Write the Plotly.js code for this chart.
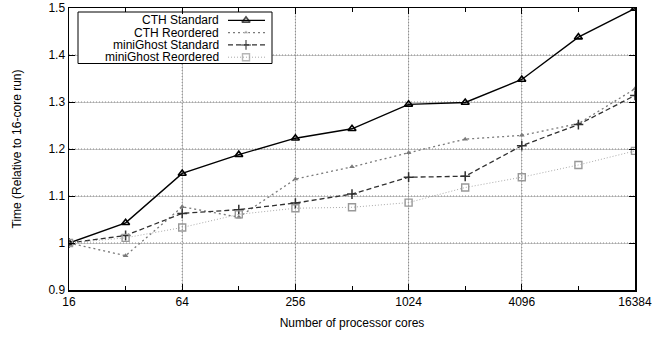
<!DOCTYPE html>
<html>
<head>
<meta charset="utf-8">
<script src="https://cdn.plot.ly/plotly-3.0.1.min.js"></script>
<style>
  html, body { margin: 0; padding: 0; background: #fff; }
  #chart { width: 669px; height: 337px; }
</style>
</head>
<body>
<div id="chart"></div>
<script>
// Processor core counts (powers of two)
const cores = [16, 32, 64, 128, 256, 512, 1024, 2048, 4096, 8192, 16384];

// Run time relative to the 16-core run
const cthStandard        = [1.000, 1.043, 1.148, 1.188, 1.223, 1.243, 1.295, 1.299, 1.348, 1.438, 1.499];
const cthReordered       = [1.000, 0.973, 1.077, 1.055, 1.136, 1.162, 1.192, 1.221, 1.229, 1.254, 1.328];
const miniGhostStandard  = [1.000, 1.016, 1.063, 1.071, 1.085, 1.104, 1.140, 1.142, 1.207, 1.252, 1.314];
const miniGhostReordered = [1.000, 1.011, 1.033, 1.061, 1.074, 1.076, 1.086, 1.118, 1.140, 1.166, 1.196];

const seriesNames = ['CTH Standard', 'CTH Reordered', 'miniGhost Standard', 'miniGhost Reordered'];
const seriesValues = [cthStandard, cthReordered, miniGhostStandard, miniGhostReordered];

const majorTicks = [16, 64, 256, 1024, 4096, 16384];
const minorTicks = [32, 128, 512, 2048, 8192];
const yTicks = [0.9, 1.0, 1.1, 1.2, 1.3, 1.4, 1.5];
const yTickText = ['0.9', '1', '1.1', '1.2', '1.3', '1.4', '1.5'];

const FONT = 'Liberation Sans, Arial, Helvetica, sans-serif';

// Plot area in page pixels
const PLOT = { left: 69, right: 635, top: 8, bottom: 290 };
const X_MIN = 16, X_MAX = 16384, Y_MIN = 0.9, Y_MAX = 1.5;

// Line and marker style of each series
const styles = [
  { line: { color: '#000000', width: 1.4 },
    marker: { symbol: 'triangle-up-open', size: 7, color: '#000000', line: { width: 1.6, color: '#000000' } } },
  { line: { color: '#7a7a7a', width: 1.3, dash: '2px,3px' },
    marker: { symbol: 'triangle-up', size: 5, color: '#7a7a7a' } },
  { line: { color: '#303030', width: 1.3, dash: '5px,3px' },
    marker: { symbol: 'cross-thin-open', size: 7, color: '#303030', line: { width: 1.5, color: '#303030' } } },
  { line: { color: '#aaaaaa', width: 1, dash: '1px,2px' },
    marker: { symbol: 'square-open', size: 7, color: '#999999', line: { width: 1.4, color: '#999999' } } }
];

// Dotted grid at the labelled ticks, drawn first so it stays beneath the series
const GRID = { color: '#8a8a8a', width: 1, dash: '1px,2px' };
const inner = a => a.slice(1, -1);
const traces = [
  {
    x: inner(majorTicks).flatMap(t => [t, t, null]),
    y: inner(majorTicks).flatMap(() => [Y_MIN, Y_MAX, null]),
    mode: 'lines', line: GRID, showlegend: false, hoverinfo: 'skip'
  },
  {
    x: inner(yTicks).flatMap(() => [X_MIN, X_MAX, null]),
    y: inner(yTicks).flatMap(t => [t, t, null]),
    mode: 'lines', line: GRID, showlegend: false, hoverinfo: 'skip'
  }
];

seriesNames.forEach((name, i) => traces.push({
  name: name, x: cores, y: seriesValues[i], mode: 'lines+markers',
  line: styles[i].line, marker: styles[i].marker,
  showlegend: false, hoverinfo: 'skip'
}));

// Overlay axis carrying only the unlabelled minor ticks at the odd powers of two
traces.push({
  x: minorTicks, y: minorTicks.map(() => null), xaxis: 'x3', yaxis: 'y',
  mode: 'markers', showlegend: false, hoverinfo: 'skip'
});

// Key: boxed, text right-aligned, sample line with its marker to the right.
// It sits on a helper axis pair measured in page pixels, above the plot.
const keyBox = { x0: 78, x1: 272, y0: 12, y1: 63.5 };
const keyRows = [20.4, 32.6, 44.9, 57.2];
const keyTextRight = 221;
const keySample = [228, 246, 265];

traces.push({
  x: [keyBox.x0, keyBox.x1, keyBox.x1, keyBox.x0, keyBox.x0],
  y: [keyBox.y0, keyBox.y0, keyBox.y1, keyBox.y1, keyBox.y0],
  xaxis: 'x2', yaxis: 'y2', mode: 'lines', fill: 'toself',
  fillcolor: '#ffffff', line: { color: '#000000', width: 1 },
  showlegend: false, hoverinfo: 'skip'
});

keyRows.forEach((ry, i) => {
  traces.push({
    x: keySample, y: [ry, ry, ry], xaxis: 'x2', yaxis: 'y2',
    mode: 'lines+markers',
    line: styles[i].line,
    marker: Object.assign({}, styles[i].marker, { size: [0, styles[i].marker.size, 0] }),
    showlegend: false, hoverinfo: 'skip'
  });
});

const annotations = keyRows.map((ry, i) => ({
  xref: 'x2', yref: 'y2', x: keyTextRight, y: ry,
  xanchor: 'right', yanchor: 'middle', showarrow: false,
  text: seriesNames[i], font: { family: FONT, size: 12, color: '#000000' }
}));

// Light solid grid underneath the dotted one
const BASE_GRID = '#c6c6c6';

const layout = {
  width: 669, height: 337,
  margin: { l: PLOT.left, r: 669 - PLOT.right, t: PLOT.top, b: 337 - PLOT.bottom },
  paper_bgcolor: '#ffffff', plot_bgcolor: '#ffffff',
  font: { family: FONT, size: 12, color: '#000000' },
  showlegend: false,
  xaxis: {
    type: 'log',
    range: [Math.log10(X_MIN), Math.log10(X_MAX)],
    tickmode: 'array', tickvals: majorTicks, ticktext: majorTicks.map(String),
    ticks: 'inside', ticklen: 6, tickcolor: '#000000', tickwidth: 1,
    mirror: 'ticks', showline: true, linecolor: '#000000', linewidth: 1.5,
    showgrid: true, gridcolor: BASE_GRID, gridwidth: 1, zeroline: false,
    tickfont: { family: FONT, size: 12 },
    title: { text: 'Number of processor cores', font: { family: FONT, size: 12 }, standoff: 10 }
  },
  xaxis3: {
    type: 'log', overlaying: 'x', anchor: 'y',
    range: [Math.log10(X_MIN), Math.log10(X_MAX)],
    tickmode: 'array', tickvals: minorTicks, showticklabels: false,
    ticks: 'inside', ticklen: 4, tickcolor: '#000000', tickwidth: 1,
    mirror: 'ticks', showline: false, showgrid: false, zeroline: false
  },
  yaxis: {
    range: [Y_MIN, Y_MAX],
    tickmode: 'array', tickvals: yTicks, ticktext: yTickText,
    ticks: 'inside', ticklen: 6, tickcolor: '#000000', tickwidth: 1,
    mirror: 'ticks', showline: true, linecolor: '#000000', linewidth: 1.5,
    showgrid: true, gridcolor: BASE_GRID, gridwidth: 1, zeroline: false,
    tickfont: { family: FONT, size: 12 },
    title: { text: 'Time (Relative to 16-core run)', font: { family: FONT, size: 12 }, standoff: 24 }
  },
  xaxis2: {
    overlaying: 'x', anchor: 'y2', range: [PLOT.left, PLOT.right],
    visible: false, showgrid: false, zeroline: false, fixedrange: true
  },
  yaxis2: {
    overlaying: 'y', anchor: 'x2', range: [PLOT.bottom, PLOT.top],
    visible: false, showgrid: false, zeroline: false, fixedrange: true
  },
  annotations: annotations
};

Plotly.newPlot('chart', traces, layout, { staticPlot: true, displayModeBar: false });
</script>
</body>
</html>
